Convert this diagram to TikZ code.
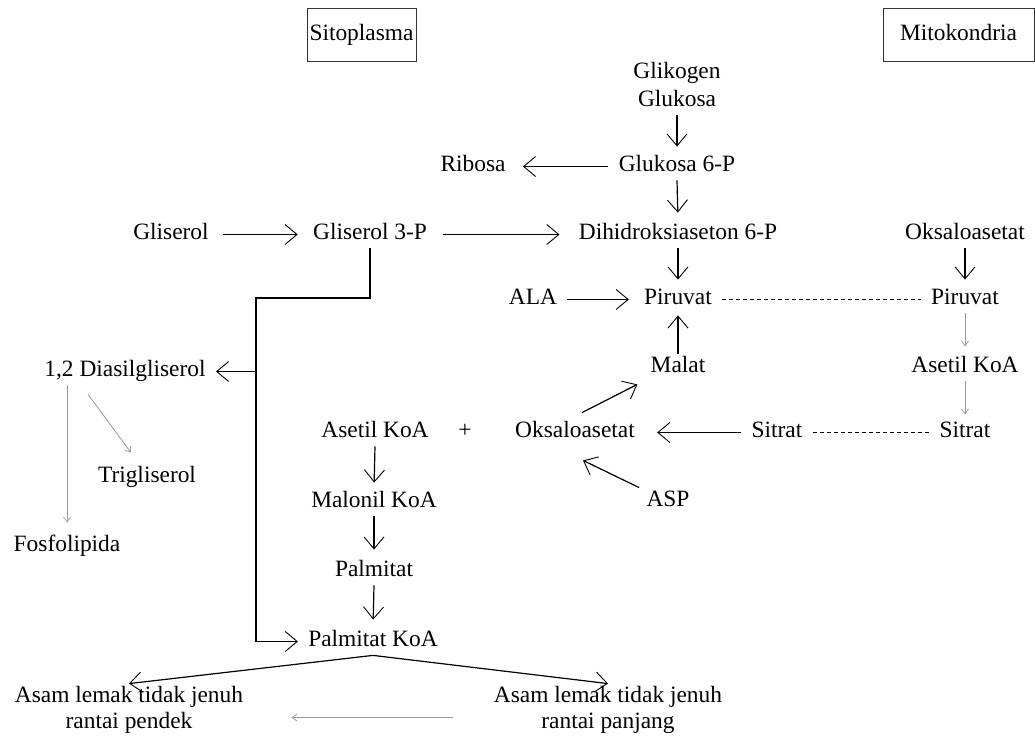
\documentclass[tikz,border=0pt]{standalone}
\usepackage{fontspec}
\setmainfont{Liberation Serif}
\usetikzlibrary{arrows.meta,calc}
\begin{document}
\begin{tikzpicture}[x=0.5pt,y=-0.5pt,
  lbl/.style={font=\fontsize{11.7pt}{14pt}\selectfont, inner xsep=5pt, inner ysep=1.5pt, text height=8pt, text depth=2.5pt, anchor=base},
  hdr/.style={draw=black!80, line width=0.5pt, minimum height=26.5pt, inner sep=0pt, font=\fontsize{11.7pt}{14pt}\selectfont, text height=8pt, text depth=2.5pt},
  arr/.style={-{Straight Barb[length=6pt,width=10pt,line width=0.45pt]}, line width=0.6pt},
  garr/.style={-{Straight Barb[length=2.5pt,width=3.5pt,line width=0.35pt]}, line width=0.4pt, draw=black!40},
  dsh/.style={line width=0.5pt, dash pattern=on 2pt off 1.5pt}]
\useasboundingbox (0,0) rectangle (1035,742);

% headers
\node[hdr, minimum width=54.5pt] (sito) at (361.5,35.5) {Sitoplasma};
\node[hdr, minimum width=75.5pt] (mito) at (958.5,35.5) {Mitokondria};

% nodes
\node[lbl] (glik) at (677,79) {Glikogen};
\node[lbl] (gluk) at (677,107) {Glukosa};
\node[lbl] (g6p) at (677,172) {Glukosa 6-P};
\node[lbl] (ribosa) at (473,172) {Ribosa};
\node[lbl] (gliserol) at (171,240) {Gliserol};
\node[lbl] (g3p) at (370,240) {Gliserol 3-P};
\node[lbl] (dihid) at (678,240) {Dihidroksiaseton 6-P};
\node[lbl] (oksR) at (965,240) {Oksaloasetat};
\node[lbl] (ala) at (533,305) {ALA};
\node[lbl] (pirL) at (678,305) {Piruvat};
\node[lbl] (pirR) at (965,305) {Piruvat};
\node[lbl] (malat) at (678,373) {Malat};
\node[lbl] (asetR) at (965,373) {Asetil KoA};
\node[lbl] (dias) at (125,377) {1,2 Diasilgliserol};
\node[lbl] (asetL) at (375,438) {Asetil KoA};
\node[lbl] (plus) at (465,438) {+};
\node[lbl] (oksL) at (575,438) {Oksaloasetat};
\node[lbl] (sitL) at (777,438) {Sitrat};
\node[lbl] (sitR) at (965,438) {Sitrat};
\node[lbl] (trig) at (147,483) {Trigliserol};
\node[lbl] (asp) at (668,507) {ASP};
\node[lbl] (malonil) at (374,508) {Malonil KoA};
\node[lbl] (fosfo) at (67,552) {Fosfolipida};
\node[lbl] (palm) at (374,577) {Palmitat};
\node[lbl] (pkoa) at (373,647) {Palmitat KoA};
\node[lbl] (asamL1) at (129,703) {Asam lemak tidak jenuh};
\node[lbl] (asamL2) at (129,729) {rantai pendek};
\node[lbl] (asamR1) at (608,703) {Asam lemak tidak jenuh};
\node[lbl] (asamR2) at (608,729) {rantai panjang};

% connectors
\draw[arr, shorten >=3pt] (gluk.south) -- (g6p.north);
\draw[arr, shorten >=4pt] (g6p.south) -- (dihid.north);
\draw[arr, shorten >=3.5pt] (g6p.west) -- (ribosa.east);
\draw[arr, shorten <=2pt, shorten >=2.5pt] (gliserol.east) -- (g3p.west);
\draw[arr, shorten <=3pt, shorten >=4.5pt] (g3p.east) -- (dihid.west);
\draw[arr, shorten >=3pt] (dihid.south) -- (pirL.north);
\draw[arr, shorten >=3pt] (oksR.south) -- (pirR.north);
\draw[arr, shorten >=2.5pt] (ala.east) -- (pirL.west);
\draw[arr, shorten >=1pt] (malat.north) -- (pirL.south);
\draw[dsh] (pirL.east) -- (pirR.west);
\draw[garr, shorten >=3.5pt] (pirR.south) -- (asetR.north);
\draw[garr, shorten >=2pt] (asetR.south) -- (sitR.north);
\draw[dsh] (sitL.east) -- (sitR.west);
\draw[arr, shorten >=6pt] (sitL.west) -- (oksL.east);
\draw[arr] ([xshift=3.5pt,yshift=3pt]oksL.north) -- ([xshift=-1.5pt,yshift=-1.5pt]malat.south west);
\draw[arr] ([xshift=1.5pt]asp.north west) -- ([xshift=4pt,yshift=-7pt]oksL.south);
\draw[arr, shorten >=3pt] (asetL.south) -- (malonil.north);
\draw[arr, shorten >=4pt] (malonil.south) -- (palm.north);
\draw[arr, shorten >=4pt] (palm.south) -- (pkoa.north);
\coordinate (j1) at (256,298);
\draw[arr] (g3p.south) |- (j1) |- (pkoa.west);
\draw[arr] (j1 |- dias.east) -- (dias.east);
\draw[arr] (pkoa.south) -- (asamL1.north);
\draw[arr] (pkoa.south) -- (asamR1.north);
\draw[garr, shorten >=5pt] (fosfo.north |- dias.south) -- (fosfo.north);
\draw[garr] ([xshift=-18.5pt,yshift=-4.5pt]dias.south) -- ([xshift=-8pt,yshift=5.5pt]trig.north);
\draw[garr, shorten <=15.5pt, shorten >=19pt] ([yshift=-10pt]asamR1.west) -- ([yshift=-10pt]asamL1.east);
\end{tikzpicture}
\end{document}
